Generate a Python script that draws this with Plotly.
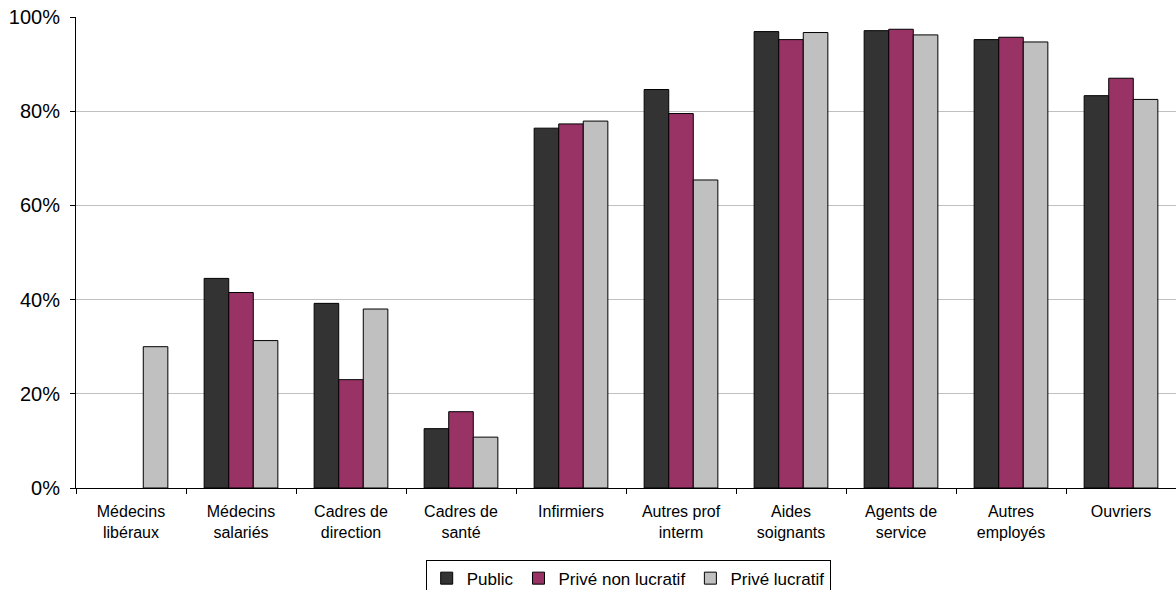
import plotly.graph_objects as go

categories = [
    "Médecins<br>libéraux", "Médecins<br>salariés", "Cadres de<br>direction",
    "Cadres de<br>santé", "Infirmiers", "Autres prof<br>interm", "Aides<br>soignants",
    "Agents de<br>service", "Autres<br>employés", "Ouvriers",
]
public = [None, 44.5, 39.2, 12.6, 76.4, 84.6, 96.9, 97.1, 95.2, 83.3]
prive_non_lucratif = [None, 41.5, 23.0, 16.2, 77.3, 79.5, 95.2, 97.4, 95.7, 87.0]
prive_lucratif = [30.0, 31.3, 38.0, 10.8, 77.9, 65.4, 96.7, 96.2, 94.7, 82.5]

series = [
    ("Public", public, "#333333"),
    ("Privé non lucratif", prive_non_lucratif, "#993366"),
    ("Privé lucratif", prive_lucratif, "#C0C0C0"),
]

FONT = "Liberation Sans, Arial, sans-serif"

fig = go.Figure()
for name, values, color in series:
    fig.add_trace(go.Bar(
        name=name, x=categories, y=values,
        marker=dict(color=color, line=dict(color="#000000", width=1)),
    ))

fig.update_layout(
    width=1176, height=590,
    margin=dict(l=76, r=0, t=17, b=102, autoexpand=False),
    paper_bgcolor="white", plot_bgcolor="white",
    barmode="group", bargap=0.33, bargroupgap=0,
    font=dict(family=FONT, color="#000000"),
    showlegend=True,
    legend=dict(
        orientation="h", x=0.502, xanchor="center", y=-0.152, yanchor="top",
        bordercolor="#000000", borderwidth=1, font=dict(size=17),
        itemwidth=30, tracegroupgap=0,
    ),
)
fig.update_xaxes(
    automargin=False,
    showline=True, linecolor="#000000", linewidth=1,
    ticks="outside", tickson="boundaries", ticklen=5, tickcolor="#000000",
    tickfont=dict(size=16), ticklabelstandoff=9, showgrid=False,
)
fig.update_yaxes(
    automargin=False,
    range=[0, 100], tickvals=[0, 20, 40, 60, 80, 100],
    ticktext=["0%", "20%", "40%", "60%", "80%", "100%"],
    showline=True, linecolor="#000000", linewidth=1,
    ticks="outside", ticklen=5, tickcolor="#000000",
    tickfont=dict(size=20), ticklabelstandoff=6,
    showgrid=True, gridcolor="#C0C0C0", gridwidth=1, zeroline=False,
)

fig.write_html("out.html")
